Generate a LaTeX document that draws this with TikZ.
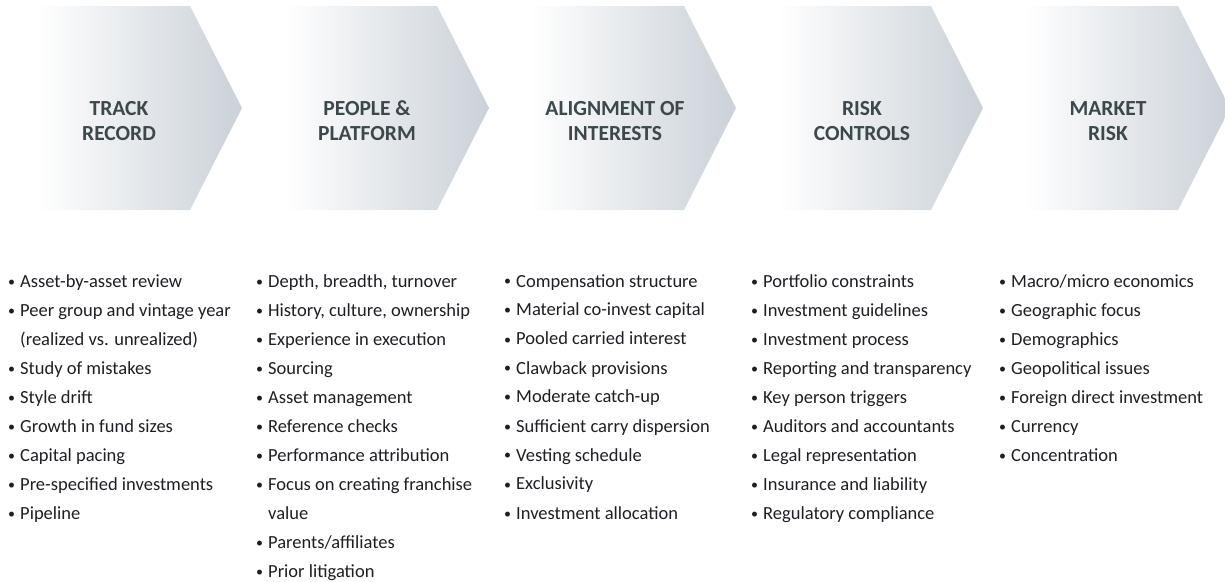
\documentclass[tikz,border=0pt]{standalone}
\usepackage{fontspec}
\setmainfont{Carlito}
\definecolor{headgrey}{RGB}{60,72,76}
\definecolor{listtext}{RGB}{30,30,36}
\definecolor{arrowgrey}{RGB}{202,209,216}
\newcommand{\bul}[1]{\makebox[12pt][l]{\raisebox{1pt}{\fontsize{14}{14}\selectfont\textbullet}}#1}
\newcommand{\cnt}[1]{\hspace*{12pt}#1}
\begin{document}
\begin{tikzpicture} [x = 1pt, y = -1pt,
	head/.style = {align = center, text = headgrey, font = \fontsize{21.5}{25}\selectfont\bfseries},
	list/.style = {align = left, anchor = north west, inner sep = 0pt, text = listtext, font = \fontsize{18.5}{29}\selectfont}]
	\useasboundingbox (0,0) rectangle (1225,581);
	% chevrons
	\shade [left color = white, right color = arrowgrey] (36,6) -- (190,6) -- (242,108) -- (190,210) -- (36,210) -- cycle;
	\shade [left color = white, right color = arrowgrey] (283,6) -- (437,6) -- (489,108) -- (437,210) -- (283,210) -- cycle;
	\shade [left color = white, right color = arrowgrey] (530,6) -- (684,6) -- (736,108) -- (684,210) -- (530,210) -- cycle;
	\shade [left color = white, right color = arrowgrey] (777,6) -- (931,6) -- (983,108) -- (931,210) -- (777,210) -- cycle;
	\shade [left color = white, right color = arrowgrey] (1024,6) -- (1178,6) -- (1230,108) -- (1178,210) -- (1024,210) -- cycle;
	% headings
	\node [head] (track) at (119,121) {TRACK\\RECORD};
	\node [head] (people) at (367,121) {PEOPLE \&\\PLATFORM};
	\node [head] (align) at (615,121) {ALIGNMENT OF\\INTERESTS};
	\node [head] (risk) at (862,121) {RISK\\CONTROLS};
	\node [head] (market) at (1108,121) {MARKET\\RISK};
	% lists
	\node [list] (tracklist) at (8,274) {\bul{Asset-by-asset review}\\\bul{Peer group and vintage year}\\\cnt{(realized vs. unrealized)}\\\bul{Study of mistakes}\\\bul{Style drift}\\\bul{Growth in fund sizes}\\\bul{Capital pacing}\\\bul{Pre-specified investments}\\\bul{Pipeline}};
	\node [list] (peoplelist) at (256,274) {\bul{Depth, breadth, turnover}\\\bul{History, culture, ownership}\\\bul{Experience in execution}\\\bul{Sourcing}\\\bul{Asset management}\\\bul{Reference checks}\\\bul{Performance attribution}\\\bul{Focus on creating franchise}\\\cnt{value}\\\bul{Parents/affiliates}\\\bul{Prior litigation}};
	\node [list] (alignlist) at (504,274) {\bul{Compensation structure}\\\bul{Material co-invest capital}\\\bul{Pooled carried interest}\\\bul{Clawback provisions}\\\bul{Moderate catch-up}\\\bul{Sufficient carry dispersion}\\\bul{Vesting schedule}\\\bul{Exclusivity}\\\bul{Investment allocation}};
	\node [list] (risklist) at (751,274) {\bul{Portfolio constraints}\\\bul{Investment guidelines}\\\bul{Investment process}\\\bul{Reporting and transparency}\\\bul{Key person triggers}\\\bul{Auditors and accountants}\\\bul{Legal representation}\\\bul{Insurance and liability}\\\bul{Regulatory compliance}};
	\node [list] (marketlist) at (999,274) {\bul{Macro/micro economics}\\\bul{Geographic focus}\\\bul{Demographics}\\\bul{Geopolitical issues}\\\bul{Foreign direct investment}\\\bul{Currency}\\\bul{Concentration}};
	\end{tikzpicture}
\end{document}
